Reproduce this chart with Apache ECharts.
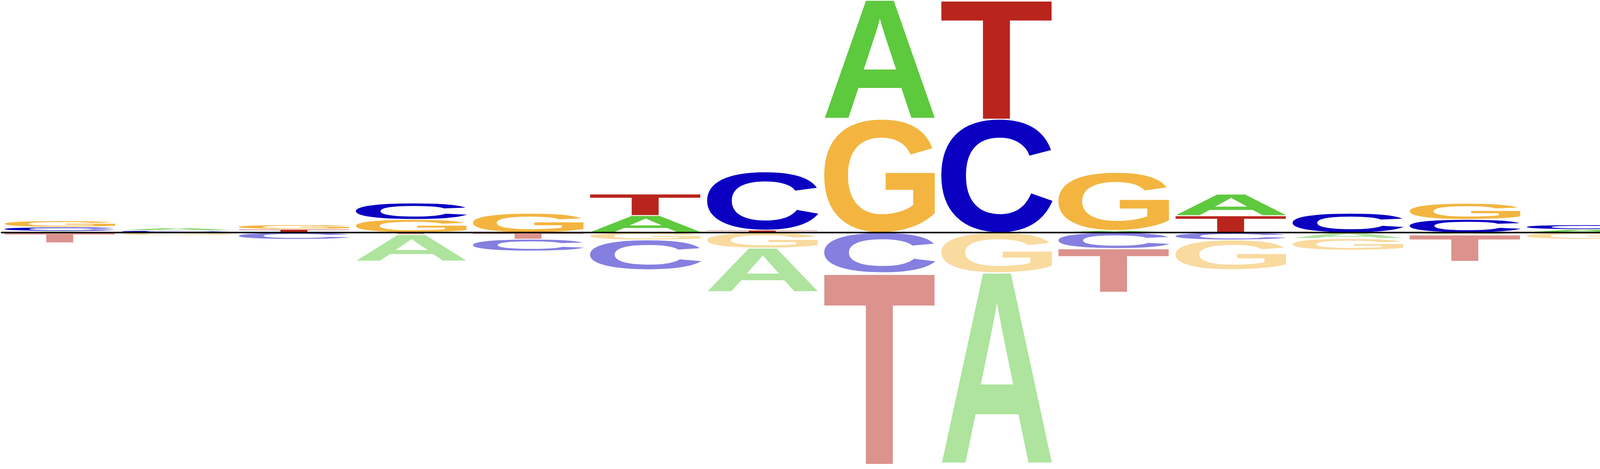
<!DOCTYPE html>
<html>
<head>
<meta charset="utf-8">
<title>Sequence logo</title>
<script src="https://cdn.jsdelivr.net/npm/echarts@6/dist/echarts.min.js"></script>
<style>
  * { margin: 0; padding: 0; }
  html, body { width: 4800px; height: 1200px; background: #fff; overflow: hidden; }
  #main { width: 4800px; height: 1200px; }
</style>
</head>
<body>
<div id="main"></div>
<script>
var positions = ['1', '2', '3', '4', '5', '6', '7', '8', '9', '10', '11', '12', '13', '14', '15', '16'];
var bases = ['A', 'C', 'G', 'T'];

// letter heights above the line, one value per position
var upA = [0.012, 0.021, 0, 0, 0, 0.147, 0, 1.024, 0, 0.018, 0.186, 0, 0, 0.027, 0, 0];
var upC = [0.035, 0.018, 0, 0.141, 0, 0, 0.502, 0, 0.976, 0, 0, 0.166, 0.113, 0.040, 0, 0.054];
var upG = [0.055, 0, 0.038, 0.113, 0.166, 0, 0, 0.976, 0, 0.500, 0, 0, 0.139, 0, 0.013, 0.034];
var upT = [0, 0, 0.029, 0, 0, 0.186, 0.021, 0, 1.024, 0, 0.145, 0, 0, 0, 0.020, 0.012];

// letter heights below the line
var downA = [0, 0, 0, 0.228, 0, 0, 0.377, 0, 1.648, 0, 0, 0.051, 0.019, 0, 0, 0.087];
var downC = [0, 0, 0.058, 0, 0.102, 0.256, 0, 0.345, 0, 0.137, 0.063, 0, 0, 0, 0.024, 0];
var downG = [0, 0.025, 0, 0, 0, 0.063, 0.133, 0, 0.345, 0, 0.256, 0.100, 0, 0.057, 0, 0];
var downT = [0.088, 0, 0, 0.018, 0.057, 0, 0, 1.648, 0, 0.376, 0, 0, 0.228, 0, 0, 0];

var baseColors = { A: '#5dc93d', C: '#0b00c1', G: '#f3b540', T: '#b9251c' };

var upSets = [upA, upC, upG, upT];
var downSets = [downA, downC, downG, downT];

// stack each column: smallest letter next to the line, biggest furthest out
var letters = [];
positions.forEach(function (p, i) {
    [[upSets, 1], [downSets, -1]].forEach(function (side) {
        var list = [];
        for (var k = 0; k < 4; k++) {
            if (side[0][k][i] > 0) list.push([k, side[0][k][i]]);
        }
        list.sort(function (a, b) { return a[1] - b[1]; });
        var acc = 0;
        list.forEach(function (it) {
            var lo = acc, hi = acc + it[1];
            acc = hi;
            letters.push([i, side[1] * lo, side[1] * hi, it[0], side[1] < 0 ? 1 : 0]);
        });
    });
});

// ink box of each glyph, measured the way zrender draws it (middle baseline, left align)
var fontStr = 'bold 200px "Liberation Sans"';
var probe = document.createElement('canvas').getContext('2d');
probe.font = fontStr;
probe.textAlign = 'left';
probe.textBaseline = 'middle';
var ink = {};
bases.forEach(function (b) {
    var m = probe.measureText(b);
    ink[b] = {
        l: -m.actualBoundingBoxLeft,
        r: m.actualBoundingBoxRight,
        t: -m.actualBoundingBoxAscent,
        b: m.actualBoundingBoxDescent
    };
});

function renderLetter(params, api) {
    var col = api.value(0);
    var b = bases[api.value(3)];
    var neg = api.value(4);
    var p0 = api.coord([col, api.value(1)]);
    var p1 = api.coord([col, api.value(2)]);
    var w = api.size([1, 0])[0] * 0.951;
    var top = Math.min(p0[1], p1[1]) + 1;
    var h = Math.max(Math.abs(p1[1] - p0[1]) - 2, 0.5);
    var left = p0[0] - w / 2;
    var g = ink[b];
    var sx = w / (g.r - g.l);
    var sy = h / (g.b - g.t);
    return {
        type: 'text',
        x: left - g.l * sx,
        y: top - g.t * sy,
        scaleX: sx,
        scaleY: sy,
        style: {
            text: b,
            font: fontStr,
            fill: baseColors[b],
            opacity: neg ? 0.5 : 1,
            align: 'left',
            verticalAlign: 'middle',
            lineHeight: 200
        }
    };
}

var myChart = echarts.init(document.getElementById('main'));
var option = {
    animation: false,
    backgroundColor: '#ffffff',
    grid: { left: 4, right: 0, top: 0, height: 1190 },
    xAxis: {
        type: 'category',
        data: positions,
        boundaryGap: true,
        z: 10,
        axisLine: { show: true, onZero: true, lineStyle: { color: '#000000', width: 4 } },
        axisTick: { show: false },
        axisLabel: { show: false },
        splitLine: { show: false }
    },
    yAxis: {
        type: 'value',
        min: -2,
        max: 2,
        axisLine: { show: false },
        axisTick: { show: false },
        axisLabel: { show: false },
        splitLine: { show: false }
    },
    series: [{
        type: 'custom',
        renderItem: renderLetter,
        encode: { x: 0, y: [1, 2] },
        data: letters,
        silent: true,
        emphasis: { disabled: true }
    }]
};
myChart.setOption(option);
</script>
</body>
</html>
